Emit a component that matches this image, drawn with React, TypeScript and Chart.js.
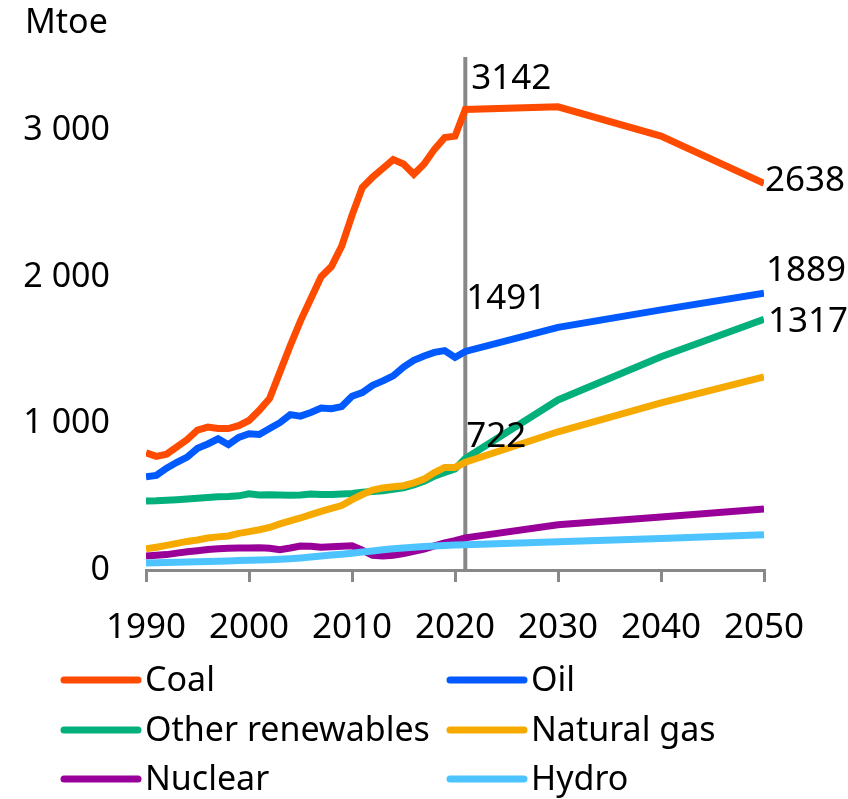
import React, { useEffect, useRef } from 'react';
import { Chart, registerables } from 'chart.js';

Chart.register(...registerables);

const years = [
  1990, 1991, 1992, 1993, 1994, 1995, 1996, 1997, 1998, 1999,
  2000, 2001, 2002, 2003, 2004, 2005, 2006, 2007, 2008, 2009,
  2010, 2011, 2012, 2013, 2014, 2015, 2016, 2017, 2018, 2019,
  2020, 2021, 2030, 2040, 2050,
];

const coal = [
  800, 775, 790, 840, 890, 955, 975, 965, 965, 985,
  1020, 1090, 1170, 1350, 1530, 1700, 1850, 2000, 2070, 2210,
  2420, 2610, 2680, 2740, 2800, 2770, 2700, 2770, 2870, 2950,
  2960, 3142, 3160, 2960, 2638,
];
const oil = [
  636, 645, 695, 735, 770, 830, 860, 895, 855, 905,
  930, 925, 965, 1005, 1060, 1050, 1075, 1105, 1100, 1115,
  1185, 1210, 1260, 1290, 1325, 1385, 1430, 1460, 1485, 1497,
  1450, 1491, 1655, 1775, 1889,
];
const otherRenewables = [
  470, 472, 476, 480, 485, 490, 495, 500, 502, 506,
  520, 512, 513, 512, 510, 512, 518, 515, 515, 518,
  522, 530, 535, 540, 550, 560, 580, 605, 640, 665,
  690, 760, 1160, 1455, 1710,
];
const naturalGas = [
  144, 155, 168, 182, 195, 205, 218, 226, 232, 250,
  262, 275, 290, 315, 335, 355, 378, 400, 420, 440,
  480, 515, 545, 560, 568, 575, 595, 620, 665, 700,
  700, 735, 943, 1141, 1317,
];
const nuclear = [
  96, 100, 105, 115, 125, 132, 140, 145, 148, 150,
  150, 152, 148, 138, 150, 164, 162, 155, 158, 162,
  165, 135, 100, 95, 100, 112, 128, 142, 165, 185,
  200, 219, 308, 362, 417,
];
const hydro = [
  48, 50, 51, 53, 55, 56, 58, 60, 62, 64,
  66, 68, 70, 73, 77, 82, 88, 95, 102, 108,
  115, 123, 130, 138, 145, 150, 155, 160, 163, 167,
  170, 172, 192, 215, 240,
];

const seriesNames = ['Coal', 'Oil', 'Other renewables', 'Natural gas', 'Nuclear', 'Hydro'];
const seriesValues = [coal, oil, otherRenewables, naturalGas, nuclear, hydro];
const seriesColors = ['#FF4B00', '#005AFF', '#03AF7A', '#F6AA00', '#990099', '#4DC4FF'];

const xTicks = [1990, 2000, 2010, 2020, 2030, 2040, 2050];
const yTicks = [0, 1000, 2000, 3000];
const yTickLabels = ['0', '1 000', '2 000', '3 000'];
const xMin = 1990;
const xMax = 2050;
const yMin = 0;
const yMax = 3500;
const markerYear = 2021;
const unitLabel = 'Mtoe';

// value callouts: series index, year, text
const calloutSeries = [0, 1, 3, 0, 1, 3];
const calloutYears = [2021, 2021, 2021, 2050, 2050, 2050];
const calloutTexts = ['3142', '1491', '722', '2638', '1889', '1317'];

const FONT = "'Noto Sans', sans-serif";

// style offsets for callouts (px)
const calloutOffsets = [
  [6, -30], [1, -52], [1, -25], [1, -2], [2, -22], [4, -55],
];

export default function App() {
  const canvasRef = useRef<HTMLCanvasElement | null>(null);

  useEffect(() => {
    document.body.style.margin = '0';
    const canvas = canvasRef.current;
    if (!canvas) return;

    const datasets: any[] = seriesNames.map((name, i) => ({
      label: name,
      data: years.map((yr, j) => ({ x: yr, y: seriesValues[i][j] })),
      borderColor: seriesColors[i],
      backgroundColor: seriesColors[i],
      borderWidth: 7,
      pointRadius: 0,
      tension: 0,
      fill: false,
      order: seriesNames.length - 1 - i,
    }));
    datasets.push({
      label: '',
      data: [{ x: markerYear, y: yMin }, { x: markerYear, y: yMax }],
      borderColor: '#888888',
      borderWidth: 4,
      pointRadius: 0,
      fill: false,
      order: 100,
    });

    const overlay = {
      id: 'overlay',
      afterDatasetsDraw(chart: any) {
        const ctx = chart.ctx;
        const xs = chart.scales.x;
        const ys = chart.scales.y;
        ctx.save();
        ctx.fillStyle = '#000';
        ctx.textAlign = 'left';
        ctx.textBaseline = 'middle';

        // unit label
        ctx.font = `34px ${FONT}`;
        ctx.fillText(unitLabel, 25, 23);

        // y tick labels
        ctx.textAlign = 'right';
        yTicks.forEach((v, k) => {
          ctx.fillText(yTickLabels[k], chart.chartArea.left - 36, ys.getPixelForValue(v));
        });
        ctx.textAlign = 'left';

        // callouts
        ctx.font = `35px ${FONT}`;
        calloutTexts.forEach((t, k) => {
          const s = calloutSeries[k];
          const j = years.indexOf(calloutYears[k]);
          const px = xs.getPixelForValue(calloutYears[k]);
          const py = ys.getPixelForValue(seriesValues[s][j]);
          ctx.fillText(t, px + calloutOffsets[k][0], py + calloutOffsets[k][1]);
        });

        // legend
        const colX = [62, 448];
        const rowY = [680, 730, 779];
        ctx.font = `34px ${FONT}`;
        ctx.lineCap = 'round';
        seriesNames.forEach((name, i) => {
          const cx = colX[i % 2];
          const cy = rowY[Math.floor(i / 2)];
          ctx.strokeStyle = seriesColors[i];
          ctx.lineWidth = 7;
          ctx.beginPath();
          ctx.moveTo(cx + 2, cy);
          ctx.lineTo(cx + 76, cy);
          ctx.stroke();
          ctx.fillStyle = '#000';
          ctx.fillText(name, cx + 83, cy + 1);
        });
        ctx.restore();
      },
    };

    const chart = new Chart(canvas, {
      type: 'line',
      data: { datasets },
      plugins: [overlay],
      options: {
        animation: false,
        responsive: false,
        maintainAspectRatio: false,
        layout: { padding: { top: 57, right: 84, left: 0, bottom: 0 } },
        plugins: {
          legend: { display: false },
          title: { display: false },
          tooltip: { enabled: false },
        },
        scales: {
          x: {
            type: 'linear',
            min: xMin,
            max: xMax,
            afterBuildTicks: (scale: any) => { scale.ticks = xTicks.map((v) => ({ value: v })); },
            afterFit: (scale: any) => { scale.height = 229; },
            border: { display: true, color: '#888888', width: 3 },
            grid: {
              display: true,
              drawOnChartArea: false,
              drawTicks: true,
              tickLength: 12,
              color: '#888888',
              lineWidth: 3,
            },
            ticks: {
              color: '#000',
              padding: 25,
              maxRotation: 0,
              autoSkip: false,
              font: { family: FONT, size: 35 },
              callback: (v: any) => String(v),
            },
          },
          y: {
            type: 'linear',
            min: yMin,
            max: yMax,
            afterBuildTicks: (scale: any) => { scale.ticks = yTicks.map((v) => ({ value: v })); },
            afterFit: (scale: any) => { scale.width = 146; },
            border: { display: false },
            grid: { display: false, drawTicks: false },
            ticks: { display: false },
          },
        },
      },
    });

    return () => chart.destroy();
  }, []);

  return (
    <div style={{ width: 848, height: 799, position: 'relative' }}>
      <canvas ref={canvasRef} width={848} height={799} style={{ display: 'block' }} />
    </div>
  );
}
